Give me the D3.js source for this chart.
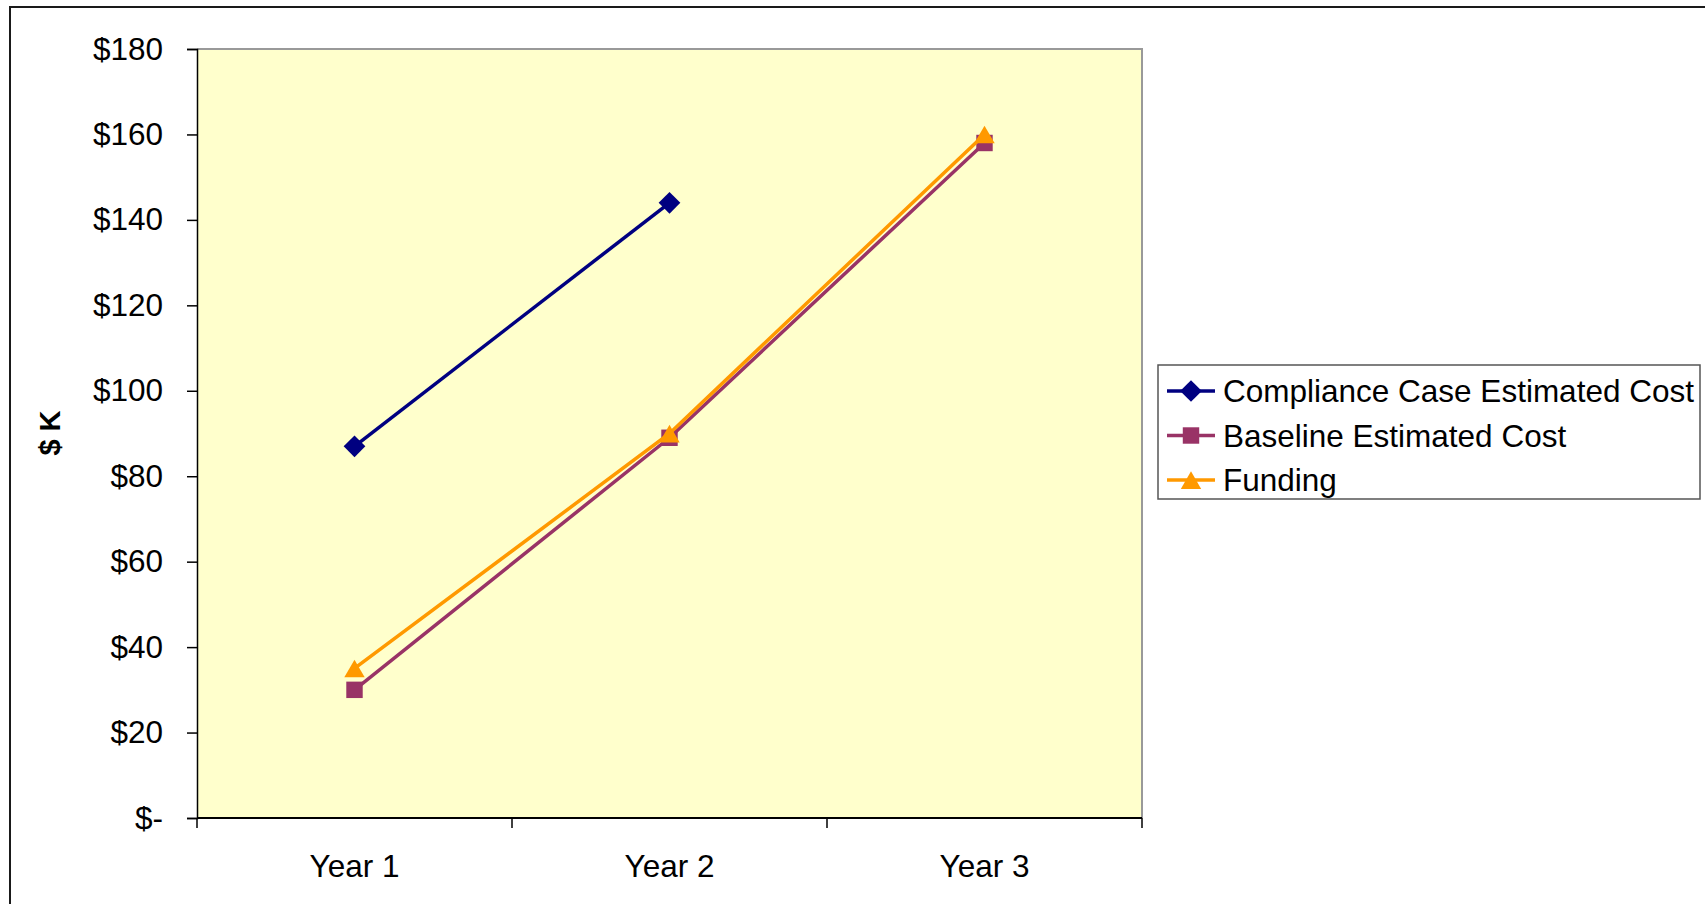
<!DOCTYPE html>
<html>
<head>
<meta charset="utf-8">
<script src="https://cdn.jsdelivr.net/npm/d3@7"></script>
<style>
  html, body { margin: 0; padding: 0; background: #fff; }
  svg { display: block; font-family: "Liberation Sans", Arial, sans-serif; }
</style>
</head>
<body>
<svg id="chart" width="1705" height="904"></svg>
<script>
const categories = ["Year 1", "Year 2", "Year 3"];
const complianceCost = [87, 144];
const baselineCost = [30, 89, 158];
const funding = [35, 90, 160];
const seriesNames = ["Compliance Case Estimated Cost", "Baseline Estimated Cost", "Funding"];
const yTicks = [0, 20, 40, 60, 80, 100, 120, 140, 160, 180];

const series = [
  { name: seriesNames[0], values: complianceCost, color: "#000080", marker: "diamond" },
  { name: seriesNames[1], values: baselineCost, color: "#993366", marker: "square" },
  { name: seriesNames[2], values: funding, color: "#FF9900", marker: "triangle" }
];

const FS = 31.5;
const svg = d3.select("#chart");
const plot = { left: 197, right: 1142, top: 49, bottom: 818 };

// outer chart border
svg.append("rect")
  .attr("x", 10).attr("y", 7)
  .attr("width", 1720).attr("height", 920)
  .attr("fill", "#fff").attr("stroke", "#1a1a1a").attr("stroke-width", 2);

const x = d3.scaleBand().domain(categories).range([plot.left, plot.right]).paddingInner(0).paddingOuter(0);
const y = d3.scaleLinear().domain([0, 180]).range([plot.bottom, plot.top]);

// plot area
svg.append("rect")
  .attr("x", plot.left).attr("y", plot.top)
  .attr("width", plot.right - plot.left).attr("height", plot.bottom - plot.top)
  .attr("fill", "#FFFFCC");
// top and right border (gray)
svg.append("path")
  .attr("d", `M${plot.left},${plot.top}H${plot.right}V${plot.bottom}`)
  .attr("fill", "none").attr("stroke", "#999").attr("stroke-width", 2);

// y axis
const yAxis = d3.axisLeft(y).tickValues(yTicks).tickSize(10).tickPadding(24)
  .tickFormat(d => d === 0 ? "$-" : "$" + d);
const gy = svg.append("g").attr("transform", `translate(${plot.left},0)`).call(yAxis);
gy.select(".domain").attr("stroke", "#000").attr("stroke-width", 1.5);
gy.selectAll(".tick line").attr("stroke", "#000").attr("stroke-width", 1.5);
gy.selectAll(".tick text").attr("font-size", FS).attr("fill", "#000")
  .attr("font-family", "'Liberation Sans', Arial, sans-serif");

// x axis with ticks at category boundaries
const gx = svg.append("g").attr("transform", `translate(0,${plot.bottom})`);
gx.append("line").attr("x1", plot.left).attr("x2", plot.right)
  .attr("stroke", "#000").attr("stroke-width", 2);
const boundaries = categories.map(c => x(c)).concat([x(categories[categories.length - 1]) + x.bandwidth()]);
gx.selectAll("line.tk").data(boundaries).enter().append("line")
  .attr("class", "tk")
  .attr("x1", d => d).attr("x2", d => d).attr("y1", 0).attr("y2", 10)
  .attr("stroke", "#000").attr("stroke-width", 1.5);
gx.selectAll("text").data(categories).enter().append("text")
  .attr("x", d => x(d) + x.bandwidth() / 2)
  .attr("y", 59)
  .attr("text-anchor", "middle")
  .attr("font-size", FS)
  .attr("fill", "#000")
  .text(d => d);

// y axis title
svg.append("text")
  .attr("transform", `translate(60,433) rotate(-90)`)
  .attr("text-anchor", "middle")
  .attr("font-size", 29)
  .attr("font-weight", "bold")
  .attr("fill", "#000")
  .text("$ K");

// markers
const sym = {
  diamond: d3.symbol().type(d3.symbolDiamond2).size(300),
  square: d3.symbol().type(d3.symbolSquare).size(270),
  triangle: d3.symbol().type(d3.symbolTriangle).size(180)
};
const markerDy = { diamond: 0, square: 0, triangle: 3 };

const cx = c => x(c) + x.bandwidth() / 2;
const line = d3.line().x((d, i) => cx(categories[i])).y(d => y(d));

series.forEach(s => {
  const g = svg.append("g");
  g.append("path")
    .attr("d", line(s.values))
    .attr("fill", "none")
    .attr("stroke", s.color)
    .attr("stroke-width", 3.5);
  g.selectAll("path.m").data(s.values).enter().append("path")
    .attr("class", "m")
    .attr("d", sym[s.marker])
    .attr("transform", (d, i) => `translate(${cx(categories[i])},${y(d) + markerDy[s.marker]})`)
    .attr("fill", s.color);
});

// legend
const lg = svg.append("g");
lg.append("rect")
  .attr("x", 1158).attr("y", 365).attr("width", 542).attr("height", 134)
  .attr("fill", "#fff").attr("stroke", "#555").attr("stroke-width", 1.5);
series.forEach((s, i) => {
  const yy = 391 + i * 44.5;
  lg.append("line").attr("x1", 1167).attr("x2", 1215).attr("y1", yy).attr("y2", yy)
    .attr("stroke", s.color).attr("stroke-width", 3.5);
  lg.append("path").attr("d", sym[s.marker])
    .attr("transform", `translate(1191,${yy + markerDy[s.marker]})`)
    .attr("fill", s.color);
  lg.append("text").attr("x", 1223).attr("y", yy).attr("dy", "0.35em")
    .attr("font-size", FS).attr("fill", "#000")
    .text(s.name);
});
</script>
</body>
</html>
